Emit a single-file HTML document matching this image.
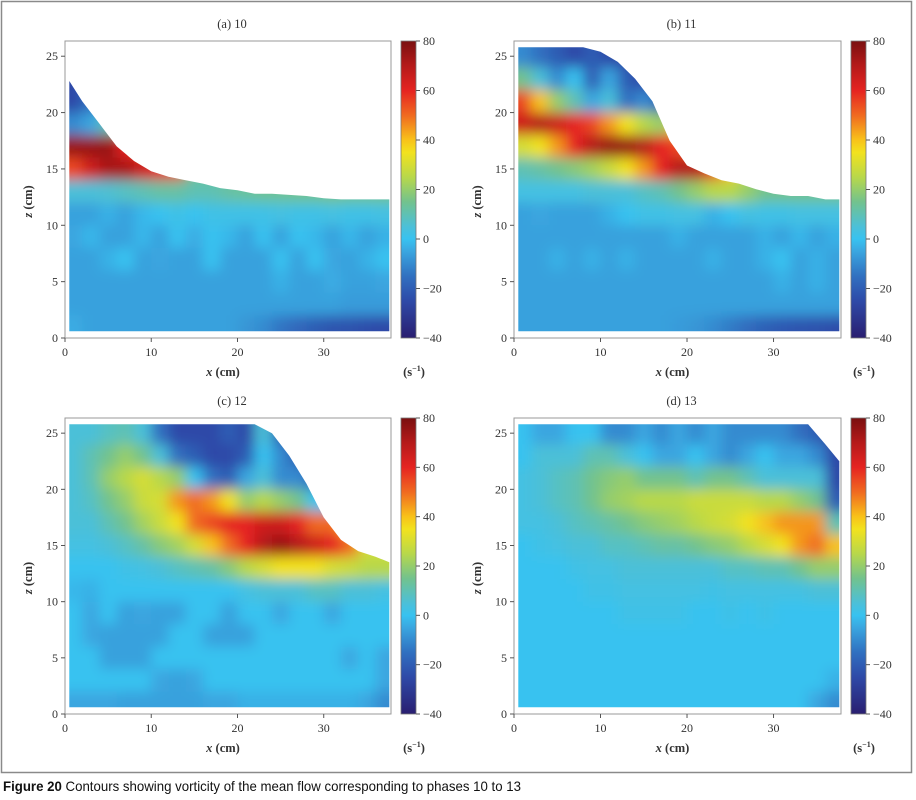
<!DOCTYPE html>
<html><head><meta charset="utf-8"><style>
html,body{margin:0;padding:0;background:#fff}
svg{display:block}
text{font-family:"Liberation Serif",serif;fill:#333}
</style></head><body>
<svg id="fig" width="916" height="800" viewBox="0 0 916 800" xmlns="http://www.w3.org/2000/svg">
<defs>
<filter id="blur" x="-5%" y="-5%" width="110%" height="110%"><feGaussianBlur stdDeviation="6.5"/></filter>
<linearGradient id="cbgrad" x1="0" y1="1" x2="0" y2="0"></linearGradient>
</defs>
<rect x="1.5" y="1.5" width="910" height="771" fill="none" stroke="#8a8a8a" stroke-width="1.5"/>
<text x="3" y="791" style="font-family:'Liberation Sans',sans-serif;font-size:14px;fill:#111" textLength="518" lengthAdjust="spacingAndGlyphs"><tspan font-weight="bold">Figure 20</tspan> Contours showing vorticity of the mean flow corresponding to phases 10 to 13</text>
</svg>
<script>
// axis/tick data
const xTicks = [0, 10, 20, 30];
const zTicks = [0, 5, 10, 15, 20, 25];
const cbTicks = [-40, -20, 0, 20, 40, 60, 80];
const xCenters = [1,3,5,7,9,11,13,15,17,19,21,23,25,27,29,31,33,35,37];
const zCenters = [25,23,21,19,17,15,13,11,9,7,5,3,1];
const surfX = [0,2,4,6,8,10,12,14,16,18,20,22,24,26,28,30,32,34,36,38];
const titles = ["(a) 10", "(b) 11", "(c) 12", "(d) 13"];

const surfA = [22.8,21,19,17,15.7,14.8,14.3,14,13.7,13.3,13.1,12.8,12.8,12.7,12.6,12.4,12.3,12.3,12.3,12.3];
const surfB = [25.8,25.8,25.8,25.8,25.8,25.4,24.5,23,21,17.5,15.3,14.6,14,13.7,13.2,12.8,12.6,12.6,12.3,12.3];
const surfC = [25.8,25.8,25.8,25.8,25.8,25.8,25.8,25.8,25.8,25.8,25.8,25.8,25,23,20.5,17.5,15.5,14.5,14,13.5];
const surfD = [25.8,25.8,25.8,25.8,25.8,25.8,25.8,25.8,25.8,25.8,25.8,25.8,25.8,25.8,25.8,25.8,25.8,25.8,24,22.5];

const gridA = [
[-25,-20,-10,0,20,40,50,15,15,15,15,15,15,15,15,15,15,15,15],
[-25,-20,-10,0,20,40,50,15,15,15,15,15,15,15,15,15,15,15,15],
[-25,-15,-5,0,20,40,50,15,15,15,15,15,15,15,15,15,15,15,15],
[-10,-5,10,10,30,40,50,15,15,15,15,15,15,15,15,15,15,15,15],
[75,75,75,60,55,50,50,15,15,15,15,15,15,15,15,15,15,15,15],
[55,65,72,72,65,60,55,15,15,15,15,15,15,15,15,15,15,15,15],
[5,5,6,8,10,12,12,10,10,12,13,14,14,15,15,16,15,15,15],
[-6,-6,-3,-6,-2,0,2,0,2,2,2,2,3,2,2,3,2,2,3],
[-5,-2,-6,-6,-2,-6,0,-4,0,-2,-6,0,-6,0,-2,-6,-2,-6,-3],
[-6,-6,-3,0,-6,-5,-6,-6,0,-6,-6,-6,0,-6,0,-5,-6,-3,0],
[-6,-6,-6,-6,-6,-6,-6,-6,-6,-6,-6,-6,-3,-6,-6,-4,-6,-6,-5],
[-6,-6,-6,-6,-6,-6,-6,-6,-6,-6,-6,-6,-6,-6,-6,-6,-7,-7,-7],
[-4,-6,-6,-6,-6,-6,-6,-6,-6,-6,-8,-10,-14,-17,-20,-22,-23,-24,-25]];

const gridB = [
[-10,-15,-20,-25,-20,-25,-25,-25,-25,15,15,15,15,15,15,15,15,15,15],
[15,5,-10,0,-20,-5,-20,-25,-25,-25,15,15,15,15,15,15,15,15,15],
[55,40,20,10,-5,5,-15,-10,-20,-20,15,15,15,15,15,15,15,15,15],
[65,70,65,60,55,45,35,25,20,40,15,15,15,15,15,15,15,15,15],
[30,35,45,60,70,75,75,70,60,55,50,15,15,15,15,15,15,15,15],
[10,12,15,18,22,28,35,45,60,70,70,55,40,25,15,15,15,15,15],
[3,3,3,3,5,5,5,8,10,15,20,25,25,20,15,15,15,15,15],
[-6,-5,-6,-6,-6,-3,0,2,2,3,3,-3,0,3,2,2,3,3,3],
[-6,-6,-6,-6,-6,-6,-6,-6,-6,-3,-6,-6,-6,-6,-3,-6,-2,-6,-3],
[-6,-6,-3,-6,-3,-6,-3,-6,-6,-6,-6,-3,-6,-6,-3,0,-6,-3,-6],
[-6,-6,-6,-6,-6,-6,-6,-6,-6,-6,-6,-6,-6,-6,-6,-3,-6,-3,-6],
[-6,-6,-6,-6,-6,-6,-6,-6,-6,-6,-6,-6,-6,-6,-6,-6,-6,-6,-6],
[-6,-6,-6,-6,-6,-6,-6,-6,-6,-7,-8,-10,-13,-16,-19,-21,-22,-23,-24]];

const gridC = [
[5,5,8,10,5,-15,-25,-25,-25,-20,-25,5,-20,-20,-20,-20,-20,-20,-20],
[5,10,15,20,15,5,-15,-20,-25,-25,-20,0,-10,-20,-20,-20,-20,-20,-20],
[5,10,20,25,30,25,20,0,-15,-20,-5,5,-10,-10,-20,-10,-10,-10,-10],
[5,8,15,20,28,30,45,50,45,35,20,25,20,15,0,0,0,0,0],
[5,5,10,15,22,28,35,50,55,60,60,65,65,60,50,50,40,40,40],
[3,3,5,8,12,18,22,30,40,50,60,70,75,70,65,60,50,30,30],
[0,0,0,2,3,5,8,10,12,18,25,30,35,35,35,30,28,25,25],
[-2,-3,0,0,0,0,0,0,0,0,3,5,5,5,8,8,5,5,3],
[0,-5,0,-6,-5,-6,-6,0,0,-6,0,0,-5,0,0,-5,0,0,0],
[0,-5,-6,-6,-6,-6,0,0,-6,-6,-6,0,0,0,0,0,0,0,0],
[0,0,-6,-6,-6,0,0,0,0,0,0,0,0,0,0,0,-5,0,-5],
[0,0,0,0,0,-5,-6,-5,0,0,0,0,0,0,0,0,0,0,-5],
[-5,-5,-5,-6,-6,-6,-6,-6,-5,-5,-3,-3,-3,-3,-3,-3,-3,-5,-10]];

const gridD = [
[0,-5,-5,0,0,-10,-10,-5,-10,-5,-10,-5,-10,-10,-10,-10,-15,-20,-30],
[0,5,5,5,10,10,5,0,-5,-5,0,-5,-10,-5,0,-5,-5,-10,-25],
[3,5,8,10,15,18,20,15,15,15,10,15,15,10,5,5,5,5,-25],
[3,5,8,10,15,20,22,25,25,25,28,28,28,28,25,25,20,15,-20],
[3,3,5,8,10,12,15,18,20,22,25,28,30,35,40,45,45,45,10],
[0,2,3,5,5,8,8,10,12,12,15,18,20,25,30,35,45,50,40],
[0,0,0,2,3,3,5,5,5,5,5,5,8,8,10,10,15,20,20],
[0,0,0,0,2,2,3,3,3,3,3,2,3,3,3,3,3,5,5],
[0,0,0,0,0,0,2,2,2,2,0,0,2,0,2,0,0,0,0],
[0,0,0,0,0,0,0,0,0,0,0,0,0,0,0,0,0,0,0],
[0,0,0,0,0,0,0,0,0,0,0,0,0,0,0,0,0,0,0],
[0,0,0,0,0,0,0,0,0,0,0,0,0,0,0,0,0,0,-3],
[0,0,0,0,0,0,0,0,0,0,0,0,0,0,0,0,0,-5,-10]];

const NS = "http://www.w3.org/2000/svg";
const svg = document.getElementById("fig");
const stops = [[-40,[42,30,112]],[-25,[46,74,168]],[-15,[48,112,192]],[-5,[58,166,224]],[0,[56,194,240]],[5,[76,192,216]],[15,[114,194,142]],[25,[184,216,74]],[35,[242,226,30]],[40,[248,194,26]],[50,[240,106,32]],[60,[229,36,33]],[70,[181,26,26]],[80,[122,16,16]]];
function cmap(v){
  v=Math.max(-40,Math.min(80,v));
  for(let i=0;i<stops.length-1;i++){
    const a=stops[i],b=stops[i+1];
    if(v<=b[0]){const t=(v-a[0])/(b[0]-a[0]);
      const c=a[1].map((x,k)=>Math.round(x+(b[1][k]-x)*t));
      return "rgb("+c.join(",")+")";}
  }
  return "rgb(122,16,16)";
}
const grad=document.getElementById("cbgrad");
for(let v=-40;v<=80;v+=5){const s=document.createElementNS(NS,"stop");s.setAttribute("offset",((v+40)/120).toFixed(3));s.setAttribute("stop-color",cmap(v));grad.appendChild(s);}

function mk(tag,attrs,parent){const e=document.createElementNS(NS,tag);for(const k in attrs)e.setAttribute(k,attrs[k]);(parent||svg).appendChild(e);return e;}

const panels=[
 {L:65,R:391,T:41,B:338,cb:401,surf:surfA,grid:gridA},
 {L:514,R:841,T:41,B:338,cb:851,surf:surfB,grid:gridB},
 {L:65,R:391,T:418,B:714,cb:401,surf:surfC,grid:gridC},
 {L:514,R:841,T:418,B:714,cb:851,surf:surfD,grid:gridD}];

panels.forEach((p,pi)=>{
  const xs=(p.R-p.L)/37.8, zs=(p.B-p.T)/26.35;
  const X=x=>p.L+x*xs, Z=z=>p.B-z*zs;
  const g=mk("g",{});
  
  
  const cid="clip"+pi;
  const cp=mk("clipPath",{id:cid},svg.querySelector("defs"));
  let pts=[[0.5,0.6],[37.6,0.6]];
  for(let i=surfX.length-1;i>=0;i--){const x=Math.max(0.5,Math.min(37.6,surfX[i]));pts.push([x,p.surf[i]]);}
  mk("polygon",{points:pts.map(q=>X(q[0]).toFixed(1)+","+Z(q[1]).toFixed(1)).join(" ")},cp);
  mk("rect",{x:p.L,y:p.T,width:p.R-p.L,height:p.B-p.T,fill:"#fff",stroke:"#999","stroke-width":1},g);
  const cg=mk("g",{"clip-path":"url(#"+cid+")"},g);
  const fg=mk("g",{filter:"url(#blur)"},cg);
  p.grid.forEach((row,j)=>{row.forEach((v,i)=>{
    let x0=xCenters[i]-1,x1=xCenters[i]+1,z0=zCenters[j]-1,z1=zCenters[j]+1;
    if(i===0)x0=-3; if(i===row.length-1)x1=42; if(j===0)z1=31; if(j===p.grid.length-1)z0=-3;
    const r=mk("rect",{x:X(x0).toFixed(1),y:Z(z1).toFixed(1),width:((x1-x0)*xs+0.6).toFixed(1),height:((z1-z0)*zs+0.6).toFixed(1),fill:cmap(v)},fg);
    
    
  });});
  xTicks.forEach(t=>{mk("line",{x1:X(t),x2:X(t),y1:p.B,y2:p.B+4,stroke:"#555"},g);
    const tx=mk("text",{x:X(t),y:p.B+18,"text-anchor":"middle","font-size":"12"},g);tx.textContent=t;
    
    });
  zTicks.forEach(t=>{mk("line",{x1:p.L-4,x2:p.L,y1:Z(t),y2:Z(t),stroke:"#555"},g);
    const tx=mk("text",{x:p.L-7,y:Z(t)+4,"text-anchor":"end","font-size":"12"},g);tx.textContent=t;
    
    });
  const ti=mk("text",{x:(p.L+p.R)/2+4,y:p.T-13,"text-anchor":"middle","font-size":"12.5"},g);ti.textContent=titles[pi];
  
  
  const xl=mk("text",{x:(p.L+p.R)/2-5,y:p.B+38,"text-anchor":"middle","font-size":"12.5","font-weight":"bold"},g);
  xl.innerHTML='<tspan font-style="italic">x</tspan> (cm)';
  
  
  const zl=mk("text",{x:0,y:0,"text-anchor":"middle","font-size":"12.5","font-weight":"bold",transform:"translate("+(p.L-33)+","+((p.T+p.B)/2+12)+") rotate(-90)"},g);
  zl.innerHTML='<tspan font-style="italic">z</tspan> (cm)';
  
  
  const cb=mk("rect",{x:p.cb,y:p.T,width:15,height:p.B-p.T,fill:"url(#cbgrad)",stroke:"#777","stroke-width":0.8},g);
  
  
  cbTicks.forEach(t=>{const y=p.B-(t+40)/120*(p.B-p.T);
    mk("line",{x1:p.cb+15,x2:p.cb+19,y1:y,y2:y,stroke:"#555"},g);
    const tx=mk("text",{x:p.cb+22,y:y+4,"font-size":"12"},g);tx.textContent=(t<0?"\u2212"+(-t):t);
    
    });
  const un=mk("text",{x:p.cb+13,y:p.B+38,"text-anchor":"middle","font-size":"12.5","font-weight":"bold"},g);
  un.innerHTML='(s<tspan font-size="8" dy="-5">\u22121</tspan><tspan dy="5">)</tspan>';
  
  
});
</script>
</body></html>
